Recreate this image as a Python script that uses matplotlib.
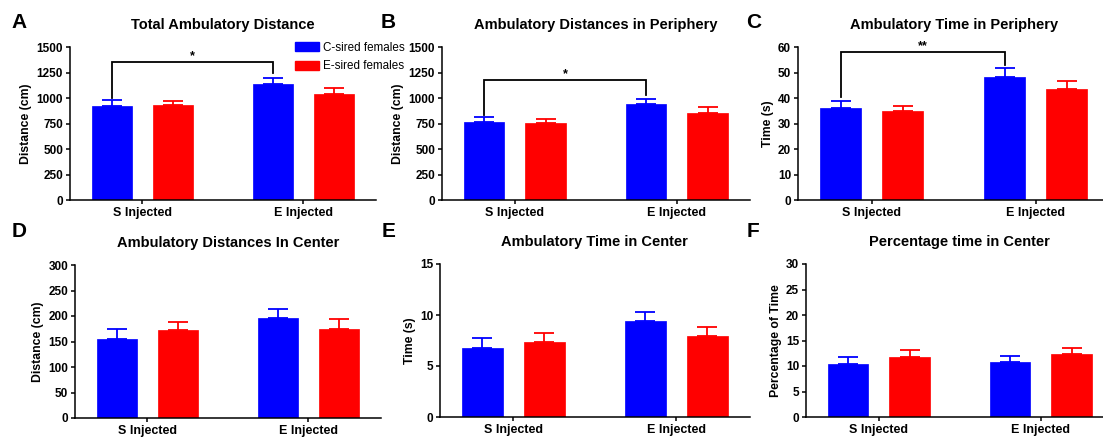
import numpy as np
import matplotlib
matplotlib.use('Agg')
import matplotlib.pyplot as plt
from matplotlib.patches import Patch

plt.rcParams['font.family'] = ['Liberation Sans', 'DejaVu Sans']

# data (mean, top of error bar)
groups = ['S Injected', 'E Injected']
series = ['C-sired females', 'E-sired females']
colors = ['#0000ff', '#ff0000']

titles = ['Total Ambulatory Distance', 'Ambulatory Distances in Periphery',
          'Ambulatory Time in Periphery', 'Ambulatory Distances In Center',
          'Ambulatory Time in Center', 'Percentage time in Center']
letters = ['A', 'B', 'C', 'D', 'E', 'F']
ylabels = ['Distance (cm)', 'Distance (cm)', 'Time (s)',
           'Distance (cm)', 'Time (s)', 'Percentage of Time']

c_mean = [[920, 1135], [760, 940], [36.2, 48.3], [154, 196], [6.8, 9.4], [10.4, 10.8]]
c_err = [[58, 60], [50, 50], [2.6, 3.4], [21, 17], [0.9, 0.9], [1.3, 1.2]]
e_mean = [[930, 1035], [755, 850], [35.0, 43.5], [173, 175], [7.4, 7.9], [11.8, 12.3]]
e_err = [[40, 65], [35, 65], [2.0, 3.3], [15, 20], [0.8, 0.95], [1.3, 1.3]]

yticks = [np.arange(0, 1501, 250), np.arange(0, 1501, 250), np.arange(0, 61, 10),
          np.arange(0, 301, 50), np.arange(0, 16, 5), np.arange(0, 31, 5)]

# significance brackets: panel -> (bracket y, left leg end, right leg end, label)
brackets = {0: (1350, 1000, 1250, '*'),
            1: (1175, 830, 1030, '*'),
            2: (58, 40.5, 53, '**')}

# axes boxes in pixels: left, top, bottom, px per group
W, H = 1103, 437
boxes = [(70, 47, 200, 161), (442, 47, 200, 162), (798, 47, 200, 164),
         (75, 265, 418, 161), (440, 264, 417, 163), (806, 264, 417, 162)]
letter_pos = [(11, 13), (381, 13), (746, 13), (12, 222), (382, 222), (747, 222)]

fig = plt.figure(figsize=(W / 100, H / 100), dpi=100)

x = np.arange(len(groups))
off = 0.19
bw = 0.25

for i in range(6):
    l, t, b, s = boxes[i]
    wpx = 1.9 * s
    ax = fig.add_axes([l / W, 1 - b / H, wpx / W, (b - t) / H])

    for k, (m, e) in enumerate([(c_mean[i], c_err[i]), (e_mean[i], e_err[i])]):
        xs = x + (-off if k == 0 else off)
        ax.bar(xs, m, width=bw, color=colors[k], edgecolor=colors[k], linewidth=0.5)
        ax.errorbar(xs, m, yerr=[np.zeros(2), e], fmt='none', ecolor=colors[k],
                    elinewidth=1.3, capsize=7, capthick=1.3)

    if i in brackets:
        yb, y0, y1, lab = brackets[i]
        ax.plot([x[0] - off, x[0] - off, x[1] - off, x[1] - off], [y0, yb, yb, y1],
                color='black', lw=1.3, solid_joinstyle='miter')
        ax.text((x[0] + x[1]) / 2 - off, yb, lab, ha='center', va='bottom',
                fontsize=9, fontweight='bold')

    ax.set_xlim(-0.45, 1.45)
    ax.set_ylim(0, yticks[i][-1])
    ax.set_yticks(yticks[i])
    ax.set_xticks(x)
    ax.set_xticklabels(groups, fontsize=9, fontweight='bold')
    for lbl in ax.get_yticklabels():
        lbl.set_fontweight('bold')
        lbl.set_fontsize(8.5)
    ax.tick_params(axis='both', direction='out', length=3, width=1.1, pad=2)
    ax.spines['top'].set_visible(False)
    ax.spines['right'].set_visible(False)
    ax.spines['left'].set_linewidth(1.1)
    ax.spines['bottom'].set_linewidth(1.1)
    ax.set_ylabel(ylabels[i], fontsize=8.8, fontweight='bold', labelpad=3)
    ax.set_title(titles[i], fontsize=10.5, fontweight='bold', pad=13)

    lx, ly = letter_pos[i]
    fig.text(lx / W, 1 - ly / H, letters[i], fontsize=15, fontweight='bold',
             ha='left', va='top')

    if i == 0:
        handles = [Patch(color=colors[0]), Patch(color=colors[1])]
        ax.legend(handles, series, loc='upper left', frameon=False,
                  bbox_to_anchor=(289 / W, 1 - 36 / H), bbox_transform=fig.transFigure,
                  fontsize=8.4, borderpad=0, handlelength=2.1, handleheight=0.8,
                  handletextpad=0.3, labelspacing=0.55)

fig.savefig('out.png', dpi=100)
